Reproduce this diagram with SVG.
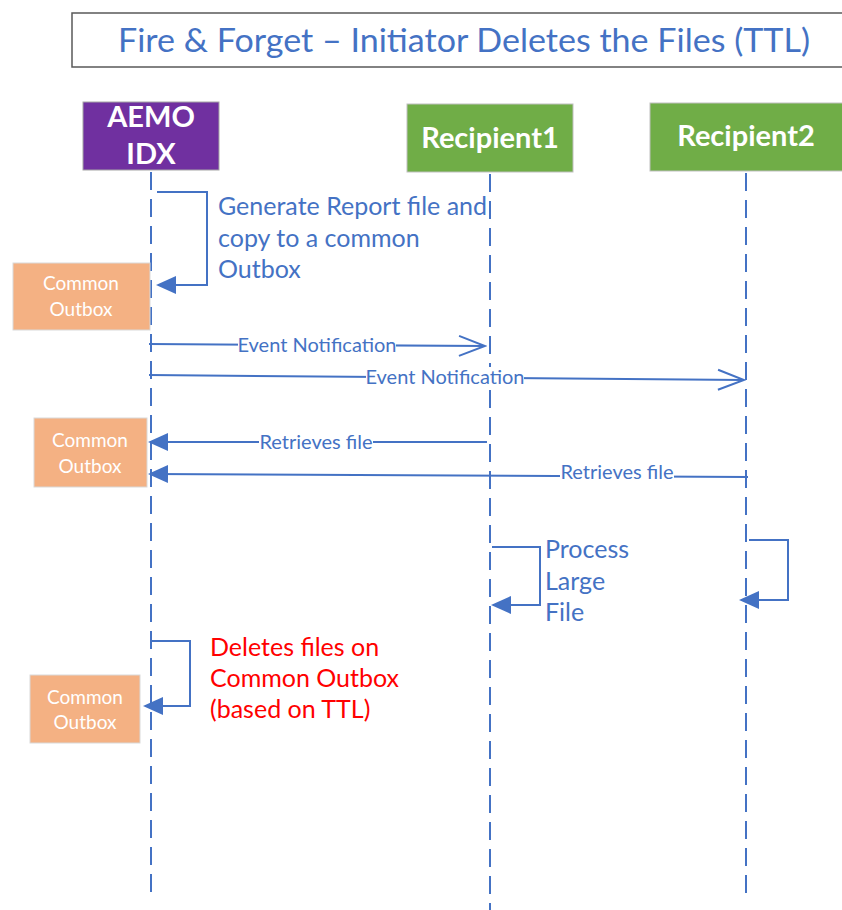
<svg xmlns="http://www.w3.org/2000/svg" width="842" height="910" viewBox="0 0 842 910">
  <defs>
    <marker id="solidHead" viewBox="0 0 20 20" refX="18" refY="10" markerWidth="20" markerHeight="20" markerUnits="userSpaceOnUse" orient="auto">
      <path d="M0,1 L20,10 L0,19 Z" fill="#4472C4"/>
    </marker>
    <marker id="openHead" viewBox="0 0 30 24" refX="28" refY="12" markerWidth="30" markerHeight="24" markerUnits="userSpaceOnUse" orient="auto">
      <path d="M2,2 L28,12 L2,22" fill="none" stroke="#4472C4" stroke-width="2"/>
    </marker>
    <style>
      .title { font-family: Lato, "Open Sans", "Liberation Sans", sans-serif; font-size: 33px; fill: #4472C4; }
      .actor { font-family: Lato, "Open Sans", "Liberation Sans", sans-serif; font-size: 29px; font-weight: bold; fill: #FFFFFF; text-anchor: middle; }
      .box { font-family: Lato, "Open Sans", "Liberation Sans", sans-serif; font-size: 19px; fill: #FFFFFF; text-anchor: middle; }
      .note { font-family: Lato, "Open Sans", "Liberation Sans", sans-serif; font-size: 25px; fill: #4472C4; }
      .warn { font-family: Lato, "Open Sans", "Liberation Sans", sans-serif; font-size: 25px; fill: #FF0000; }
      .msg { font-family: Lato, "Open Sans", "Liberation Sans", sans-serif; font-size: 20px; fill: #4472C4; text-anchor: middle; }
      .life { stroke: #4472C4; stroke-width: 2; stroke-dasharray: 18 9; fill: none; }
      .line { stroke: #4472C4; stroke-width: 2; fill: none; }
      .outbox { fill: #F4B183; stroke: #D9D9D9; stroke-width: 1; }
    </style>
  </defs>

  <rect width="842" height="910" fill="#FFFFFF"/>

  <!-- Title -->
  <g id="title">
    <rect x="72" y="13" width="780" height="54" fill="#FFFFFF" stroke="#595959" stroke-width="1.5"/>
    <text class="title" x="118" y="52" textLength="692" lengthAdjust="spacingAndGlyphs">Fire &amp; Forget – Initiator Deletes the Files (TTL)</text>
  </g>

  <!-- Participants -->
  <g id="aemo-idx">
    <rect x="83" y="102" width="136" height="68" fill="#7030A0" stroke="#A6A6A6" stroke-width="1"/>
    <text class="actor" x="151" y="127">AEMO</text>
    <text class="actor" x="151" y="164">IDX</text>
  </g>
  <g id="recipient1">
    <rect x="407" y="104" width="166" height="68" fill="#70AD47" stroke="#BFBFBF" stroke-width="1"/>
    <text class="actor" x="490" y="148">Recipient1</text>
  </g>
  <g id="recipient2">
    <rect x="650" y="103" width="194" height="68" fill="#70AD47" stroke="#BFBFBF" stroke-width="1"/>
    <text class="actor" x="746" y="146">Recipient2</text>
  </g>

  <!-- Lifelines -->
  <g id="lifelines">
    <line class="life" x1="151" y1="172" x2="151" y2="895"/>
    <line class="life" x1="490" y1="174" x2="490" y2="910"/>
    <line class="life" x1="746" y1="173" x2="746" y2="895"/>
  </g>

  <!-- Common Outbox boxes -->
  <g id="outbox1">
    <rect class="outbox" x="13" y="263" width="137" height="67"/>
    <text class="box" x="81" y="290">Common</text>
    <text class="box" x="81" y="316">Outbox</text>
  </g>
  <g id="outbox2">
    <rect class="outbox" x="34" y="418" width="113" height="69"/>
    <text class="box" x="90" y="447">Common</text>
    <text class="box" x="90" y="473">Outbox</text>
  </g>
  <g id="outbox3">
    <rect class="outbox" x="30" y="675" width="110" height="68"/>
    <text class="box" x="85" y="704">Common</text>
    <text class="box" x="85" y="729">Outbox</text>
  </g>

  <!-- Connectors -->
  <g id="connectors">
    <!-- generate report, self call on AEMO IDX -->
    <polyline class="line" points="157,192 207,192 207,285 158,285" marker-end="url(#solidHead)"/>
    <!-- event notifications -->
    <line class="line" x1="149" y1="344" x2="485" y2="346" marker-end="url(#openHead)"/>
    <line class="line" x1="149" y1="375" x2="744" y2="380" marker-end="url(#openHead)"/>
    <!-- retrieves file -->
    <line class="line" x1="487" y1="442" x2="150" y2="442" marker-end="url(#solidHead)"/>
    <line class="line" x1="748" y1="477" x2="150" y2="474" marker-end="url(#solidHead)"/>
    <!-- processing self calls -->
    <polyline class="line" points="492,547 540,547 540,605 493,605" marker-end="url(#solidHead)"/>
    <polyline class="line" points="749,540 788,540 788,600 741,600" marker-end="url(#solidHead)"/>
    <!-- delete self call -->
    <polyline class="line" points="151,641 190,641 190,706 145,706" marker-end="url(#solidHead)"/>
  </g>

  <!-- Message labels -->
  <g id="labels">
    <rect x="238" y="335" width="158" height="20" fill="#FFFFFF"/>
    <text class="msg" x="317" y="352">Event Notification</text>
    <rect x="366" y="367" width="158" height="20" fill="#FFFFFF"/>
    <text class="msg" x="445" y="384">Event Notification</text>
    <rect x="259" y="433" width="114" height="20" fill="#FFFFFF"/>
    <text class="msg" x="316" y="449">Retrieves file</text>
    <rect x="560" y="463" width="114" height="20" fill="#FFFFFF"/>
    <text class="msg" x="617" y="479">Retrieves file</text>
  </g>

  <!-- Notes -->
  <g id="note-generate">
    <text class="note" x="218" y="215">Generate Report file and</text>
    <text class="note" x="218" y="247">copy to a common</text>
    <text class="note" x="218" y="278">Outbox</text>
  </g>
  <g id="note-process">
    <text class="note" x="545" y="558">Process</text>
    <text class="note" x="545" y="590">Large</text>
    <text class="note" x="545" y="621">File</text>
  </g>
  <g id="note-delete">
    <text class="warn" x="210" y="656">Deletes files on</text>
    <text class="warn" x="210" y="687">Common Outbox</text>
    <text class="warn" x="210" y="718">(based on TTL)</text>
  </g>
</svg>
